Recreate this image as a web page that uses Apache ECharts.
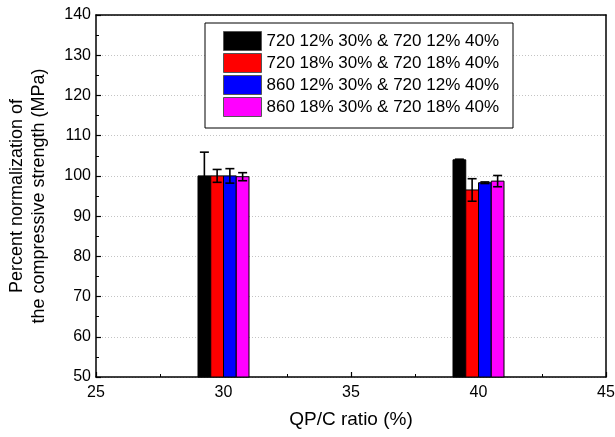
<!DOCTYPE html>
<html>
<head>
<meta charset="utf-8">
<script src="https://cdn.jsdelivr.net/npm/echarts@6/dist/echarts.min.js"></script>
<style>
html,body{margin:0;padding:0;background:#fff;}
#chart{width:615px;height:437px;}
</style>
</head>
<body>
<div id="chart"></div>
<script>
// ---- data ----
const groups = [30, 40];                       // QP/C ratio (%)
const seriesNames = [
  '720 12% 30% & 720 12% 40%',
  '720 18% 30% & 720 18% 40%',
  '860 12% 30% & 720 12% 40%',
  '860 18% 30% & 720 18% 40%'
];
const seriesColors = ['#000000', '#ff0000', '#0000ff', '#ff00ff'];
const vals720_12 = [100.0, 104.0];
const err720_12  = [5.9, 0.15];
const vals720_18 = [100.0, 96.5];
const err720_18  = [1.6, 2.8];
const vals860_12 = [100.0, 98.3];
const err860_12  = [1.8, 0.2];
const vals860_18 = [99.8, 98.7];
const err860_18  = [1.0, 1.4];
const allVals = [vals720_12, vals720_18, vals860_12, vals860_18];
const allErrs = [err720_12, err720_18, err860_12, err860_18];
const xTicks = [25, 30, 35, 40, 45];
const yTicks = [50, 60, 70, 80, 90, 100, 110, 120, 130, 140];

// ---- layout ----
const barUnits = 0.5;   // bar width in x-axis units
const yBase = 50;
const FONT = 'Liberation Sans, Arial, sans-serif';

const chart = echarts.init(document.getElementById('chart'));

function makeRender(idx) {
  return function (params, api) {
    const x = api.value(0), y = api.value(1), e = api.value(2);
    const left = x - 2 * barUnits + idx * barUnits;
    const pTL = api.coord([left, y]);
    const pBR = api.coord([left + barUnits, yBase]);
    const cx = api.coord([left + barUnits / 2, y])[0];
    const yTop = api.coord([left, y + e])[1];
    const yBot = api.coord([left, y - e])[1];
    const cap = 4.5;
    const ls = { stroke: '#000', lineWidth: 1.6 };
    return {
      type: 'group',
      children: [
        { type: 'rect',
          shape: { x: pTL[0], y: pTL[1], width: pBR[0] - pTL[0], height: pBR[1] - pTL[1] },
          style: { fill: seriesColors[idx], stroke: '#000', lineWidth: 1 } },
        { type: 'line', shape: { x1: cx, y1: yTop, x2: cx, y2: yBot }, style: ls },
        { type: 'line', shape: { x1: cx - cap, y1: yTop, x2: cx + cap, y2: yTop }, style: ls },
        { type: 'line', shape: { x1: cx - cap, y1: yBot, x2: cx + cap, y2: yBot }, style: ls }
      ]
    };
  };
}

const series = seriesNames.map(function (name, i) {
  return {
    type: 'custom',
    name: name,
    xAxisIndex: 0,
    yAxisIndex: 0,
    itemStyle: { color: seriesColors[i] },
    renderItem: makeRender(i),
    encode: { x: 0, y: 1 },
    data: groups.map(function (g, k) { return [g, allVals[i][k], allErrs[i][k]]; }),
    z: 5
  };
});

const option = {
  animation: false,
  backgroundColor: '#fff',
  textStyle: { fontFamily: FONT },
  grid: { left: 96, right: 9, top: 15, bottom: 60, containLabel: false, outerBoundsMode: 'none' },
  legend: {
    orient: 'vertical',
    left: 205,
    top: 23,
    padding: [8, 14, 11, 18],
    itemWidth: 38,
    itemHeight: 19,
    itemGap: 2,
    icon: 'rect',
    itemStyle: { borderColor: '#555', borderWidth: 1 },
    borderColor: '#000',
    borderWidth: 1,
    backgroundColor: '#fff',
    textStyle: { fontSize: 17, color: '#000', fontFamily: FONT },
    data: seriesNames,
    z: 10
  },
  xAxis: [{
    type: 'value',
    min: xTicks[0], max: xTicks[xTicks.length - 1], interval: 5,
    name: 'QP/C ratio (%)',
    nameLocation: 'middle',
    nameGap: 33,
    nameTextStyle: { fontSize: 19, color: '#000', fontFamily: FONT },
    axisLine: { show: true, onZero: false, lineStyle: { color: '#000', width: 1.5 } },
    axisTick: { show: true, inside: true, length: 5, lineStyle: { color: '#000', width: 1.2 } },
    minorTick: { show: true, splitNumber: 2, length: 3, lineStyle: { color: '#000', width: 1 } },
    axisLabel: { fontSize: 16, color: '#000', margin: 8, fontFamily: FONT },
    splitLine: { show: false }
  }, {
    type: 'value', position: 'top',
    min: xTicks[0], max: xTicks[xTicks.length - 1], interval: 5,
    axisLine: { show: true, onZero: false, lineStyle: { color: '#000', width: 1.5 } },
    axisTick: { show: false }, axisLabel: { show: false }, splitLine: { show: false },
    z: 6
  }],
  yAxis: [{
    type: 'value',
    min: yTicks[0], max: yTicks[yTicks.length - 1], interval: 10,
    name: 'Percent normalization of\nthe compressive strength (MPa)',
    nameLocation: 'middle',
    nameGap: 46,
    nameTextStyle: { fontSize: 18, color: '#000', lineHeight: 22, fontFamily: FONT },
    axisLine: { show: true, onZero: false, lineStyle: { color: '#000', width: 1.5 } },
    axisTick: { show: true, inside: true, length: 5, lineStyle: { color: '#000', width: 1.2 } },
    minorTick: { show: true, splitNumber: 2, length: 3, lineStyle: { color: '#000', width: 1 } },
    axisLabel: { fontSize: 16, color: '#000', margin: 5, fontFamily: FONT },
    splitLine: { show: true, lineStyle: { color: '#c4c4c4', width: 1, type: [1, 2] } }
  }, {
    type: 'value', position: 'right',
    min: yTicks[0], max: yTicks[yTicks.length - 1], interval: 10,
    axisLine: { show: true, onZero: false, lineStyle: { color: '#000', width: 1.5 } },
    axisTick: { show: false }, axisLabel: { show: false }, splitLine: { show: false },
    z: 6
  }],
  series: series
};

chart.setOption(option);
</script>
</body>
</html>
